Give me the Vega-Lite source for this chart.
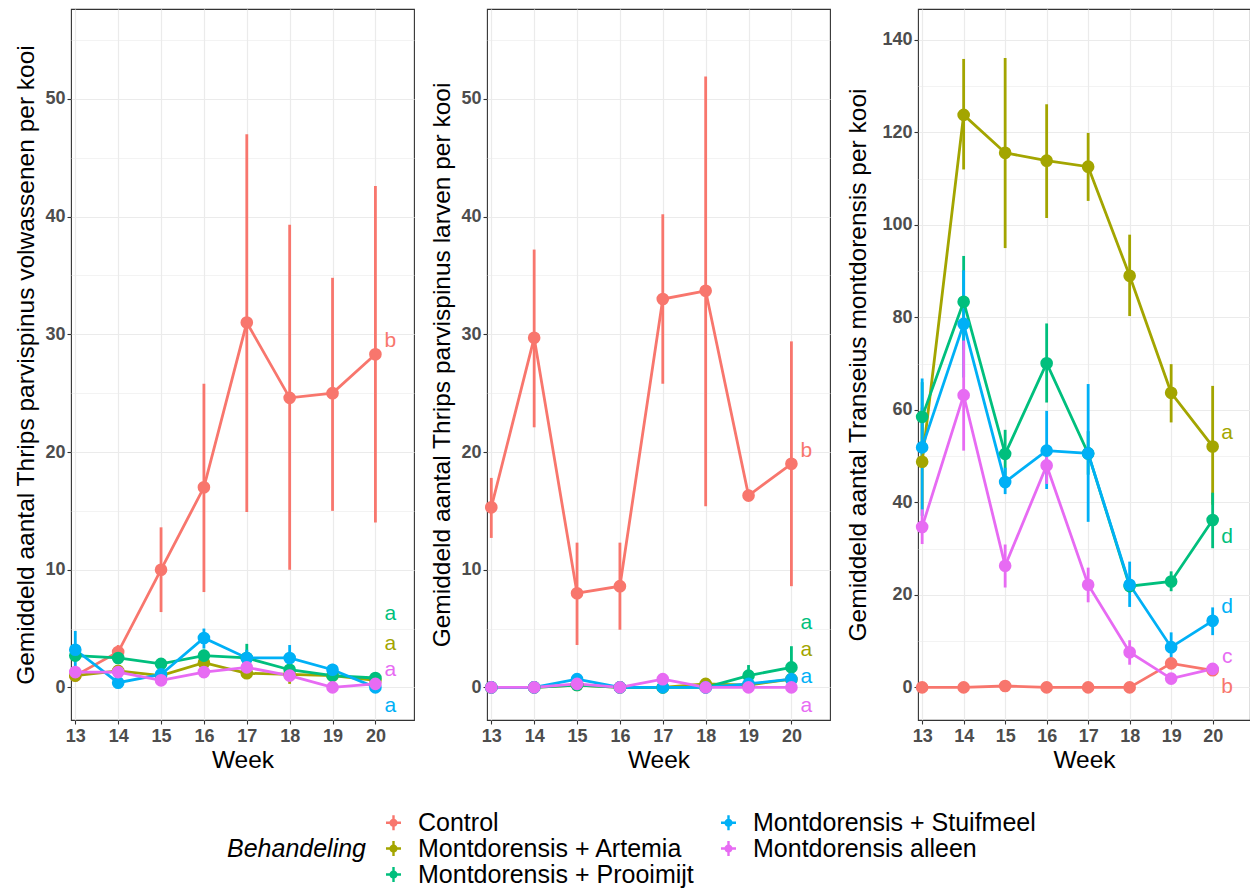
{
  "$schema": "https://vega.github.io/schema/vega-lite/v6.json",
  "padding": {"left": 13, "top": 8, "right": 0, "bottom": 0},
  "background": "white",
  "spacing": 14,
  "datasets": {
    "means": [
      {"p":"A","trt":"Control","week":13,"mean":1.0,"lo":0.5,"hi":1.6},
      {"p":"A","trt":"Control","week":14,"mean":3.0,"lo":2.5,"hi":3.6},
      {"p":"A","trt":"Control","week":15,"mean":10.0,"lo":6.4,"hi":13.6},
      {"p":"A","trt":"Control","week":16,"mean":17.0,"lo":8.1,"hi":25.8},
      {"p":"A","trt":"Control","week":17,"mean":31.0,"lo":14.9,"hi":47.0},
      {"p":"A","trt":"Control","week":18,"mean":24.6,"lo":10.0,"hi":39.3},
      {"p":"A","trt":"Control","week":19,"mean":25.0,"lo":15.0,"hi":34.8},
      {"p":"A","trt":"Control","week":20,"mean":28.3,"lo":14.0,"hi":42.6},
      {"p":"A","trt":"Montdorensis + Artemia","week":13,"mean":1.0,"lo":1.0,"hi":1.0},
      {"p":"A","trt":"Montdorensis + Artemia","week":14,"mean":1.4,"lo":1.1,"hi":1.7},
      {"p":"A","trt":"Montdorensis + Artemia","week":15,"mean":1.0,"lo":1.0,"hi":1.0},
      {"p":"A","trt":"Montdorensis + Artemia","week":16,"mean":2.1,"lo":1.5,"hi":2.7},
      {"p":"A","trt":"Montdorensis + Artemia","week":17,"mean":1.2,"lo":0.8,"hi":1.6},
      {"p":"A","trt":"Montdorensis + Artemia","week":18,"mean":1.1,"lo":0.3,"hi":1.5},
      {"p":"A","trt":"Montdorensis + Artemia","week":19,"mean":1.0,"lo":0.8,"hi":1.2},
      {"p":"A","trt":"Montdorensis + Artemia","week":20,"mean":0.6,"lo":0.4,"hi":0.8},
      {"p":"A","trt":"Montdorensis + Prooimijt","week":13,"mean":2.7,"lo":2.4,"hi":3.0},
      {"p":"A","trt":"Montdorensis + Prooimijt","week":14,"mean":2.5,"lo":2.3,"hi":2.7},
      {"p":"A","trt":"Montdorensis + Prooimijt","week":15,"mean":2.0,"lo":1.8,"hi":2.2},
      {"p":"A","trt":"Montdorensis + Prooimijt","week":16,"mean":2.7,"lo":2.2,"hi":3.2},
      {"p":"A","trt":"Montdorensis + Prooimijt","week":17,"mean":2.5,"lo":1.3,"hi":3.7},
      {"p":"A","trt":"Montdorensis + Prooimijt","week":18,"mean":1.5,"lo":1.0,"hi":2.0},
      {"p":"A","trt":"Montdorensis + Prooimijt","week":19,"mean":1.0,"lo":0.7,"hi":1.3},
      {"p":"A","trt":"Montdorensis + Prooimijt","week":20,"mean":0.8,"lo":0.4,"hi":1.3},
      {"p":"A","trt":"Montdorensis + Stuifmeel","week":13,"mean":3.2,"lo":1.8,"hi":4.8},
      {"p":"A","trt":"Montdorensis + Stuifmeel","week":14,"mean":0.4,"lo":0.4,"hi":0.4},
      {"p":"A","trt":"Montdorensis + Stuifmeel","week":15,"mean":1.1,"lo":0.6,"hi":1.6},
      {"p":"A","trt":"Montdorensis + Stuifmeel","week":16,"mean":4.2,"lo":3.3,"hi":5.0},
      {"p":"A","trt":"Montdorensis + Stuifmeel","week":17,"mean":2.5,"lo":1.8,"hi":3.2},
      {"p":"A","trt":"Montdorensis + Stuifmeel","week":18,"mean":2.5,"lo":1.6,"hi":3.6},
      {"p":"A","trt":"Montdorensis + Stuifmeel","week":19,"mean":1.5,"lo":1.0,"hi":2.0},
      {"p":"A","trt":"Montdorensis + Stuifmeel","week":20,"mean":0.0,"lo":0.0,"hi":0.0},
      {"p":"A","trt":"Montdorensis alleen","week":13,"mean":1.3,"lo":0.9,"hi":1.8},
      {"p":"A","trt":"Montdorensis alleen","week":14,"mean":1.3,"lo":1.3,"hi":1.3},
      {"p":"A","trt":"Montdorensis alleen","week":15,"mean":0.6,"lo":0.6,"hi":0.6},
      {"p":"A","trt":"Montdorensis alleen","week":16,"mean":1.3,"lo":1.1,"hi":1.5},
      {"p":"A","trt":"Montdorensis alleen","week":17,"mean":1.7,"lo":1.3,"hi":2.1},
      {"p":"A","trt":"Montdorensis alleen","week":18,"mean":1.0,"lo":0.8,"hi":1.2},
      {"p":"A","trt":"Montdorensis alleen","week":19,"mean":0.0,"lo":0.0,"hi":0.0},
      {"p":"A","trt":"Montdorensis alleen","week":20,"mean":0.3,"lo":0.3,"hi":0.3},

      {"p":"B","trt":"Control","week":13,"mean":15.3,"lo":12.7,"hi":17.8},
      {"p":"B","trt":"Control","week":14,"mean":29.7,"lo":22.1,"hi":37.2},
      {"p":"B","trt":"Control","week":15,"mean":8.0,"lo":3.6,"hi":12.3},
      {"p":"B","trt":"Control","week":16,"mean":8.6,"lo":4.9,"hi":12.3},
      {"p":"B","trt":"Control","week":17,"mean":33.0,"lo":25.8,"hi":40.2},
      {"p":"B","trt":"Control","week":18,"mean":33.7,"lo":15.4,"hi":51.9},
      {"p":"B","trt":"Control","week":19,"mean":16.3,"lo":15.9,"hi":16.8},
      {"p":"B","trt":"Control","week":20,"mean":19.0,"lo":8.6,"hi":29.4},
      {"p":"B","trt":"Montdorensis + Artemia","week":13,"mean":0.0,"lo":0.0,"hi":0.0},
      {"p":"B","trt":"Montdorensis + Artemia","week":14,"mean":0.0,"lo":0.0,"hi":0.0},
      {"p":"B","trt":"Montdorensis + Artemia","week":15,"mean":0.2,"lo":0.0,"hi":0.4},
      {"p":"B","trt":"Montdorensis + Artemia","week":16,"mean":0.0,"lo":0.0,"hi":0.0},
      {"p":"B","trt":"Montdorensis + Artemia","week":17,"mean":0.0,"lo":0.0,"hi":0.0},
      {"p":"B","trt":"Montdorensis + Artemia","week":18,"mean":0.3,"lo":0.0,"hi":0.6},
      {"p":"B","trt":"Montdorensis + Artemia","week":19,"mean":0.2,"lo":0.0,"hi":0.4},
      {"p":"B","trt":"Montdorensis + Artemia","week":20,"mean":0.7,"lo":0.3,"hi":1.1},
      {"p":"B","trt":"Montdorensis + Prooimijt","week":13,"mean":0.0,"lo":0.0,"hi":0.0},
      {"p":"B","trt":"Montdorensis + Prooimijt","week":14,"mean":0.0,"lo":0.0,"hi":0.0},
      {"p":"B","trt":"Montdorensis + Prooimijt","week":15,"mean":0.2,"lo":0.0,"hi":0.4},
      {"p":"B","trt":"Montdorensis + Prooimijt","week":16,"mean":0.0,"lo":0.0,"hi":0.0},
      {"p":"B","trt":"Montdorensis + Prooimijt","week":17,"mean":0.0,"lo":0.0,"hi":0.0},
      {"p":"B","trt":"Montdorensis + Prooimijt","week":18,"mean":0.0,"lo":0.0,"hi":0.0},
      {"p":"B","trt":"Montdorensis + Prooimijt","week":19,"mean":1.0,"lo":0.2,"hi":1.9},
      {"p":"B","trt":"Montdorensis + Prooimijt","week":20,"mean":1.7,"lo":0.3,"hi":3.5},
      {"p":"B","trt":"Montdorensis + Stuifmeel","week":13,"mean":0.0,"lo":0.0,"hi":0.0},
      {"p":"B","trt":"Montdorensis + Stuifmeel","week":14,"mean":0.0,"lo":0.0,"hi":0.0},
      {"p":"B","trt":"Montdorensis + Stuifmeel","week":15,"mean":0.7,"lo":0.3,"hi":1.0},
      {"p":"B","trt":"Montdorensis + Stuifmeel","week":16,"mean":0.0,"lo":0.0,"hi":0.0},
      {"p":"B","trt":"Montdorensis + Stuifmeel","week":17,"mean":0.0,"lo":0.0,"hi":0.0},
      {"p":"B","trt":"Montdorensis + Stuifmeel","week":18,"mean":0.0,"lo":0.0,"hi":0.0},
      {"p":"B","trt":"Montdorensis + Stuifmeel","week":19,"mean":0.3,"lo":0.0,"hi":0.7},
      {"p":"B","trt":"Montdorensis + Stuifmeel","week":20,"mean":0.7,"lo":0.3,"hi":1.1},
      {"p":"B","trt":"Montdorensis alleen","week":13,"mean":0.0,"lo":0.0,"hi":0.0},
      {"p":"B","trt":"Montdorensis alleen","week":14,"mean":0.0,"lo":0.0,"hi":0.0},
      {"p":"B","trt":"Montdorensis alleen","week":15,"mean":0.3,"lo":0.0,"hi":0.6},
      {"p":"B","trt":"Montdorensis alleen","week":16,"mean":0.0,"lo":0.0,"hi":0.0},
      {"p":"B","trt":"Montdorensis alleen","week":17,"mean":0.7,"lo":0.4,"hi":1.0},
      {"p":"B","trt":"Montdorensis alleen","week":18,"mean":0.0,"lo":0.0,"hi":0.0},
      {"p":"B","trt":"Montdorensis alleen","week":19,"mean":0.0,"lo":0.0,"hi":0.0},
      {"p":"B","trt":"Montdorensis alleen","week":20,"mean":0.0,"lo":0.0,"hi":0.0},

      {"p":"C","trt":"Control","week":13,"mean":0.0,"lo":0.0,"hi":0.0},
      {"p":"C","trt":"Control","week":14,"mean":0.0,"lo":0.0,"hi":0.0},
      {"p":"C","trt":"Control","week":15,"mean":0.3,"lo":0.0,"hi":0.6},
      {"p":"C","trt":"Control","week":16,"mean":0.0,"lo":0.0,"hi":0.0},
      {"p":"C","trt":"Control","week":17,"mean":0.0,"lo":0.0,"hi":0.0},
      {"p":"C","trt":"Control","week":18,"mean":0.0,"lo":0.0,"hi":0.0},
      {"p":"C","trt":"Control","week":19,"mean":5.2,"lo":4.2,"hi":6.3},
      {"p":"C","trt":"Control","week":20,"mean":3.7,"lo":3.0,"hi":4.5},
      {"p":"C","trt":"Montdorensis + Artemia","week":13,"mean":48.8,"lo":38.5,"hi":60.5},
      {"p":"C","trt":"Montdorensis + Artemia","week":14,"mean":123.8,"lo":112.0,"hi":135.9},
      {"p":"C","trt":"Montdorensis + Artemia","week":15,"mean":115.6,"lo":95.0,"hi":136.1},
      {"p":"C","trt":"Montdorensis + Artemia","week":16,"mean":113.9,"lo":101.5,"hi":126.1},
      {"p":"C","trt":"Montdorensis + Artemia","week":17,"mean":112.6,"lo":105.2,"hi":119.9},
      {"p":"C","trt":"Montdorensis + Artemia","week":18,"mean":89.0,"lo":80.3,"hi":97.9},
      {"p":"C","trt":"Montdorensis + Artemia","week":19,"mean":63.7,"lo":57.3,"hi":69.9},
      {"p":"C","trt":"Montdorensis + Artemia","week":20,"mean":52.1,"lo":39.5,"hi":65.2},
      {"p":"C","trt":"Montdorensis + Prooimijt","week":13,"mean":58.5,"lo":50.0,"hi":66.0},
      {"p":"C","trt":"Montdorensis + Prooimijt","week":14,"mean":83.4,"lo":73.0,"hi":93.3},
      {"p":"C","trt":"Montdorensis + Prooimijt","week":15,"mean":50.5,"lo":45.5,"hi":55.7},
      {"p":"C","trt":"Montdorensis + Prooimijt","week":16,"mean":70.1,"lo":61.6,"hi":78.7},
      {"p":"C","trt":"Montdorensis + Prooimijt","week":17,"mean":50.6,"lo":46.0,"hi":55.4},
      {"p":"C","trt":"Montdorensis + Prooimijt","week":18,"mean":21.9,"lo":20.5,"hi":23.5},
      {"p":"C","trt":"Montdorensis + Prooimijt","week":19,"mean":22.9,"lo":20.8,"hi":25.1},
      {"p":"C","trt":"Montdorensis + Prooimijt","week":20,"mean":36.2,"lo":30.1,"hi":42.1},
      {"p":"C","trt":"Montdorensis + Stuifmeel","week":13,"mean":51.9,"lo":37.1,"hi":66.8},
      {"p":"C","trt":"Montdorensis + Stuifmeel","week":14,"mean":78.6,"lo":67.0,"hi":90.2},
      {"p":"C","trt":"Montdorensis + Stuifmeel","week":15,"mean":44.4,"lo":41.8,"hi":47.5},
      {"p":"C","trt":"Montdorensis + Stuifmeel","week":16,"mean":51.2,"lo":42.9,"hi":59.8},
      {"p":"C","trt":"Montdorensis + Stuifmeel","week":17,"mean":50.6,"lo":35.8,"hi":65.6},
      {"p":"C","trt":"Montdorensis + Stuifmeel","week":18,"mean":22.2,"lo":17.4,"hi":27.2},
      {"p":"C","trt":"Montdorensis + Stuifmeel","week":19,"mean":8.7,"lo":5.2,"hi":11.9},
      {"p":"C","trt":"Montdorensis + Stuifmeel","week":20,"mean":14.4,"lo":11.3,"hi":17.3},
      {"p":"C","trt":"Montdorensis alleen","week":13,"mean":34.7,"lo":31.0,"hi":38.5},
      {"p":"C","trt":"Montdorensis alleen","week":14,"mean":63.2,"lo":51.2,"hi":75.0},
      {"p":"C","trt":"Montdorensis alleen","week":15,"mean":26.3,"lo":21.6,"hi":30.9},
      {"p":"C","trt":"Montdorensis alleen","week":16,"mean":48.0,"lo":44.0,"hi":52.0},
      {"p":"C","trt":"Montdorensis alleen","week":17,"mean":22.2,"lo":18.4,"hi":25.9},
      {"p":"C","trt":"Montdorensis alleen","week":18,"mean":7.6,"lo":4.9,"hi":10.2},
      {"p":"C","trt":"Montdorensis alleen","week":19,"mean":1.9,"lo":1.0,"hi":2.8},
      {"p":"C","trt":"Montdorensis alleen","week":20,"mean":4.0,"lo":3.0,"hi":5.0}
    ],
    "letters": [
      {"p":"A","trt":"Control","week":20.35,"mean":29.45,"lab":"b"},
      {"p":"A","trt":"Montdorensis + Prooimijt","week":20.35,"mean":6.2,"lab":"a"},
      {"p":"A","trt":"Montdorensis + Artemia","week":20.35,"mean":3.7,"lab":"a"},
      {"p":"A","trt":"Montdorensis alleen","week":20.35,"mean":1.5,"lab":"a"},
      {"p":"A","trt":"Montdorensis + Stuifmeel","week":20.35,"mean":-1.55,"lab":"a"},
      {"p":"B","trt":"Control","week":20.35,"mean":20.1,"lab":"b"},
      {"p":"B","trt":"Montdorensis + Prooimijt","week":20.35,"mean":5.5,"lab":"a"},
      {"p":"B","trt":"Montdorensis + Artemia","week":20.35,"mean":3.2,"lab":"a"},
      {"p":"B","trt":"Montdorensis + Stuifmeel","week":20.35,"mean":0.9,"lab":"a"},
      {"p":"B","trt":"Montdorensis alleen","week":20.35,"mean":-1.55,"lab":"a"},
      {"p":"C","trt":"Montdorensis + Artemia","week":20.35,"mean":55.1,"lab":"a"},
      {"p":"C","trt":"Montdorensis + Prooimijt","week":20.35,"mean":32.6,"lab":"d"},
      {"p":"C","trt":"Montdorensis + Stuifmeel","week":20.35,"mean":17.3,"lab":"d"},
      {"p":"C","trt":"Montdorensis alleen","week":20.35,"mean":6.6,"lab":"c"},
      {"p":"C","trt":"Control","week":20.35,"mean":0.0,"lab":"b"}
    ]
  },
  "hconcat": [
    {
      "width": 343, "height": 711,
      "encoding": {
        "x": {"field":"week","type":"quantitative","scale":{"domain":[12.9,20.9],"nice":false,"zero":false},"axis":{"title":"Week","values":[13,14,15,16,17,18,19,20],"format":"d"}}
      },
      "layer": [
        {"data":{"name":"means"},"transform":[{"filter":"datum.p === 'A'"}],"mark":{"type":"rule","strokeWidth":2.8},
         "encoding":{"y":{"field":"lo","type":"quantitative","scale":{"domain":[-2.77,57.64],"nice":false,"zero":false},"axis":{"title":"Gemiddeld aantal Thrips parvispinus volwassenen per kooi","values":[0,5,10,15,20,25,30,35,40,45,50,55],"labelExpr":"datum.value % 10 === 0 ? datum.label : ''","tickOpacity":{"condition":{"test":"datum.value % 10 === 0","value":1},"value":0},"gridWidth":{"condition":{"test":"datum.value % 10 === 0","value":1.2},"value":0.6}}},"y2":{"field":"hi"},
           "stroke":{"field":"trt","type":"nominal","scale":{"range":["#F8766D","#A3A500","#00BF7D","#00B0F6","#E76BF3"]},"legend":null}}},
        {"data":{"name":"means"},"transform":[{"filter":"datum.p === 'A'"}],"mark":{"type":"line","strokeWidth":2.8},
         "encoding":{"y":{"field":"mean","type":"quantitative","scale":{"domain":[-2.77,57.64],"nice":false,"zero":false},"axis":{"title":"Gemiddeld aantal Thrips parvispinus volwassenen per kooi","values":[0,5,10,15,20,25,30,35,40,45,50,55],"labelExpr":"datum.value % 10 === 0 ? datum.label : ''","tickOpacity":{"condition":{"test":"datum.value % 10 === 0","value":1},"value":0},"gridWidth":{"condition":{"test":"datum.value % 10 === 0","value":1.2},"value":0.6}}},
           "stroke":{"field":"trt","type":"nominal","scale":{"range":["#F8766D","#A3A500","#00BF7D","#00B0F6","#E76BF3"]},"legend":null}}},
        {"data":{"name":"means"},"transform":[{"filter":"datum.p === 'A'"}],"mark":{"type":"point","filled":true,"size":160,"opacity":1,"strokeWidth":0},
         "encoding":{"y":{"field":"mean","type":"quantitative","scale":{"domain":[-2.77,57.64],"nice":false,"zero":false},"axis":{"title":"Gemiddeld aantal Thrips parvispinus volwassenen per kooi","values":[0,5,10,15,20,25,30,35,40,45,50,55],"labelExpr":"datum.value % 10 === 0 ? datum.label : ''","tickOpacity":{"condition":{"test":"datum.value % 10 === 0","value":1},"value":0},"gridWidth":{"condition":{"test":"datum.value % 10 === 0","value":1.2},"value":0.6}}},
           "fill":{"field":"trt","type":"nominal","scale":{"domain":["Control","Montdorensis + Artemia","Montdorensis + Prooimijt","Montdorensis + Stuifmeel","Montdorensis alleen"],"range":["#F8766D","#A3A500","#00BF7D","#00B0F6","#E76BF3"]},"legend":{"title":"Behandeling","orient":"none","legendX":156,"legendY":801}}}},
        {"data":{"name":"letters"},"transform":[{"filter":"datum.p === 'A'"}],"mark":{"type":"text","fontSize":21,"font":"Liberation Sans","baseline":"middle","align":"center"},
         "encoding":{"y":{"field":"mean","type":"quantitative","scale":{"domain":[-2.77,57.64],"nice":false,"zero":false},"axis":{"title":"Gemiddeld aantal Thrips parvispinus volwassenen per kooi","values":[0,5,10,15,20,25,30,35,40,45,50,55],"labelExpr":"datum.value % 10 === 0 ? datum.label : ''","tickOpacity":{"condition":{"test":"datum.value % 10 === 0","value":1},"value":0},"gridWidth":{"condition":{"test":"datum.value % 10 === 0","value":1.2},"value":0.6}}},
           "text":{"field":"lab"},"color":{"field":"trt","type":"nominal","scale":{"range":["#F8766D","#A3A500","#00BF7D","#00B0F6","#E76BF3"]},"legend":null}}}
      ]
    },
    {
      "width": 343, "height": 711,
      "encoding": {
        "x": {"field":"week","type":"quantitative","scale":{"domain":[12.9,20.9],"nice":false,"zero":false},"axis":{"title":"Week","values":[13,14,15,16,17,18,19,20],"format":"d"}}
      },
      "layer": [
        {"data":{"name":"means"},"transform":[{"filter":"datum.p === 'B'"}],"mark":{"type":"rule","strokeWidth":2.8},
         "encoding":{"y":{"field":"lo","type":"quantitative","scale":{"domain":[-2.77,57.64],"nice":false,"zero":false},"axis":{"title":"Gemiddeld aantal Thrips parvispinus larven per kooi","values":[0,5,10,15,20,25,30,35,40,45,50,55],"labelExpr":"datum.value % 10 === 0 ? datum.label : ''","tickOpacity":{"condition":{"test":"datum.value % 10 === 0","value":1},"value":0},"gridWidth":{"condition":{"test":"datum.value % 10 === 0","value":1.2},"value":0.6}}},"y2":{"field":"hi"},
           "stroke":{"field":"trt","type":"nominal","scale":{"range":["#F8766D","#A3A500","#00BF7D","#00B0F6","#E76BF3"]},"legend":null}}},
        {"data":{"name":"means"},"transform":[{"filter":"datum.p === 'B'"}],"mark":{"type":"line","strokeWidth":2.8},
         "encoding":{"y":{"field":"mean","type":"quantitative","scale":{"domain":[-2.77,57.64],"nice":false,"zero":false},"axis":{"title":"Gemiddeld aantal Thrips parvispinus larven per kooi","values":[0,5,10,15,20,25,30,35,40,45,50,55],"labelExpr":"datum.value % 10 === 0 ? datum.label : ''","tickOpacity":{"condition":{"test":"datum.value % 10 === 0","value":1},"value":0},"gridWidth":{"condition":{"test":"datum.value % 10 === 0","value":1.2},"value":0.6}}},
           "stroke":{"field":"trt","type":"nominal","scale":{"range":["#F8766D","#A3A500","#00BF7D","#00B0F6","#E76BF3"]},"legend":null}}},
        {"data":{"name":"means"},"transform":[{"filter":"datum.p === 'B'"}],"mark":{"type":"point","filled":true,"size":160,"opacity":1,"strokeWidth":0},
         "encoding":{"y":{"field":"mean","type":"quantitative","scale":{"domain":[-2.77,57.64],"nice":false,"zero":false},"axis":{"title":"Gemiddeld aantal Thrips parvispinus larven per kooi","values":[0,5,10,15,20,25,30,35,40,45,50,55],"labelExpr":"datum.value % 10 === 0 ? datum.label : ''","tickOpacity":{"condition":{"test":"datum.value % 10 === 0","value":1},"value":0},"gridWidth":{"condition":{"test":"datum.value % 10 === 0","value":1.2},"value":0.6}}},
           "fill":{"field":"trt","type":"nominal","scale":{"domain":["Control","Montdorensis + Artemia","Montdorensis + Prooimijt","Montdorensis + Stuifmeel","Montdorensis alleen"],"range":["#F8766D","#A3A500","#00BF7D","#00B0F6","#E76BF3"]},"legend":{"title":"Behandeling","orient":"none","legendX":156,"legendY":801}}}},
        {"data":{"name":"letters"},"transform":[{"filter":"datum.p === 'B'"}],"mark":{"type":"text","fontSize":21,"font":"Liberation Sans","baseline":"middle","align":"center"},
         "encoding":{"y":{"field":"mean","type":"quantitative","scale":{"domain":[-2.77,57.64],"nice":false,"zero":false},"axis":{"title":"Gemiddeld aantal Thrips parvispinus larven per kooi","values":[0,5,10,15,20,25,30,35,40,45,50,55],"labelExpr":"datum.value % 10 === 0 ? datum.label : ''","tickOpacity":{"condition":{"test":"datum.value % 10 === 0","value":1},"value":0},"gridWidth":{"condition":{"test":"datum.value % 10 === 0","value":1.2},"value":0.6}}},
           "text":{"field":"lab"},"color":{"field":"trt","type":"nominal","scale":{"range":["#F8766D","#A3A500","#00BF7D","#00B0F6","#E76BF3"]},"legend":null}}}
      ]
    },
    {
      "width": 332, "height": 711,
      "encoding": {
        "x": {"field":"week","type":"quantitative","scale":{"domain":[12.9,20.9],"nice":false,"zero":false},"axis":{"title":"Week","values":[13,14,15,16,17,18,19,20],"format":"d"}}
      },
      "layer": [
        {"data":{"name":"means"},"transform":[{"filter":"datum.p === 'C'"}],"mark":{"type":"rule","strokeWidth":2.8},
         "encoding":{"y":{"field":"lo","type":"quantitative","scale":{"domain":[-7.05,146.7],"nice":false,"zero":false},"axis":{"title":"Gemiddeld aantal Transeius montdorensis per kooi","titlePadding":11,"values":[0,10,20,30,40,50,60,70,80,90,100,110,120,130,140],"labelExpr":"datum.value % 20 === 0 ? datum.label : ''","tickOpacity":{"condition":{"test":"datum.value % 20 === 0","value":1},"value":0},"gridWidth":{"condition":{"test":"datum.value % 20 === 0","value":1.2},"value":0.6}}},"y2":{"field":"hi"},
           "stroke":{"field":"trt","type":"nominal","scale":{"range":["#F8766D","#A3A500","#00BF7D","#00B0F6","#E76BF3"]},"legend":null}}},
        {"data":{"name":"means"},"transform":[{"filter":"datum.p === 'C'"}],"mark":{"type":"line","strokeWidth":2.8},
         "encoding":{"y":{"field":"mean","type":"quantitative","scale":{"domain":[-7.05,146.7],"nice":false,"zero":false},"axis":{"title":"Gemiddeld aantal Transeius montdorensis per kooi","titlePadding":11,"values":[0,10,20,30,40,50,60,70,80,90,100,110,120,130,140],"labelExpr":"datum.value % 20 === 0 ? datum.label : ''","tickOpacity":{"condition":{"test":"datum.value % 20 === 0","value":1},"value":0},"gridWidth":{"condition":{"test":"datum.value % 20 === 0","value":1.2},"value":0.6}}},
           "stroke":{"field":"trt","type":"nominal","scale":{"range":["#F8766D","#A3A500","#00BF7D","#00B0F6","#E76BF3"]},"legend":null}}},
        {"data":{"name":"means"},"transform":[{"filter":"datum.p === 'C'"}],"mark":{"type":"point","filled":true,"size":160,"opacity":1,"strokeWidth":0},
         "encoding":{"y":{"field":"mean","type":"quantitative","scale":{"domain":[-7.05,146.7],"nice":false,"zero":false},"axis":{"title":"Gemiddeld aantal Transeius montdorensis per kooi","titlePadding":11,"values":[0,10,20,30,40,50,60,70,80,90,100,110,120,130,140],"labelExpr":"datum.value % 20 === 0 ? datum.label : ''","tickOpacity":{"condition":{"test":"datum.value % 20 === 0","value":1},"value":0},"gridWidth":{"condition":{"test":"datum.value % 20 === 0","value":1.2},"value":0.6}}},
           "fill":{"field":"trt","type":"nominal","scale":{"domain":["Control","Montdorensis + Artemia","Montdorensis + Prooimijt","Montdorensis + Stuifmeel","Montdorensis alleen"],"range":["#F8766D","#A3A500","#00BF7D","#00B0F6","#E76BF3"]},"legend":{"title":"Behandeling","orient":"none","legendX":156,"legendY":801}}}},
        {"data":{"name":"letters"},"transform":[{"filter":"datum.p === 'C'"}],"mark":{"type":"text","fontSize":21,"font":"Liberation Sans","baseline":"middle","align":"center"},
         "encoding":{"y":{"field":"mean","type":"quantitative","scale":{"domain":[-7.05,146.7],"nice":false,"zero":false},"axis":{"title":"Gemiddeld aantal Transeius montdorensis per kooi","titlePadding":11,"values":[0,10,20,30,40,50,60,70,80,90,100,110,120,130,140],"labelExpr":"datum.value % 20 === 0 ? datum.label : ''","tickOpacity":{"condition":{"test":"datum.value % 20 === 0","value":1},"value":0},"gridWidth":{"condition":{"test":"datum.value % 20 === 0","value":1.2},"value":0.6}}},
           "text":{"field":"lab"},"color":{"field":"trt","type":"nominal","scale":{"range":["#F8766D","#A3A500","#00BF7D","#00B0F6","#E76BF3"]},"legend":null}}}
      ]
    }
  ],
  "config": {
    "font": "Liberation Sans",
    "view": {"stroke": "#333333", "strokeWidth": 1.1},
    "axis": {"domain": false, "grid": true, "gridColor": "#EBEBEB", "gridWidth": 1.2, "tickColor": "#333333", "tickSize": 4, "tickWidth": 1.1, "labelFont": "Liberation Sans", "labelFontSize": 18, "labelFontWeight": "bold", "labelColor": "#4D4D4D", "labelOverlap": false, "titleFont": "Liberation Sans", "titleFontSize": 24.5, "titleFontWeight": "normal", "titleColor": "#000000"},
    "axisX": {"labelPadding": 3, "titlePadding": 3},
    "axisY": {"labelPadding": 2, "titlePadding": 6},
    "legend": {
      "columns": 2, "columnPadding": 22, "rowPadding": 0,
      "titleOrient": "left", "titleAnchor": "middle", "titleBaseline": "middle", "titlePadding": 14,
      "titleFont": "Liberation Sans", "titleFontSize": 25, "titleFontStyle": "italic", "titleFontWeight": "normal", "titleColor": "#000000",
      "labelFont": "Liberation Sans", "labelFontSize": 25, "labelColor": "#000000", "labelOffset": 12, "labelLimit": 600,
      "symbolType": "M-1,-0.16H1V0.16H-1Z M-0.16,-1H0.16V1H-0.16Z M0.55,0A0.55,0.55 0 1,1 -0.55,0A0.55,0.55 0 1,1 0.55,0Z",
      "symbolSize": 225, "symbolStrokeWidth": 0, "symbolOpacity": 1
    }
  }
}
